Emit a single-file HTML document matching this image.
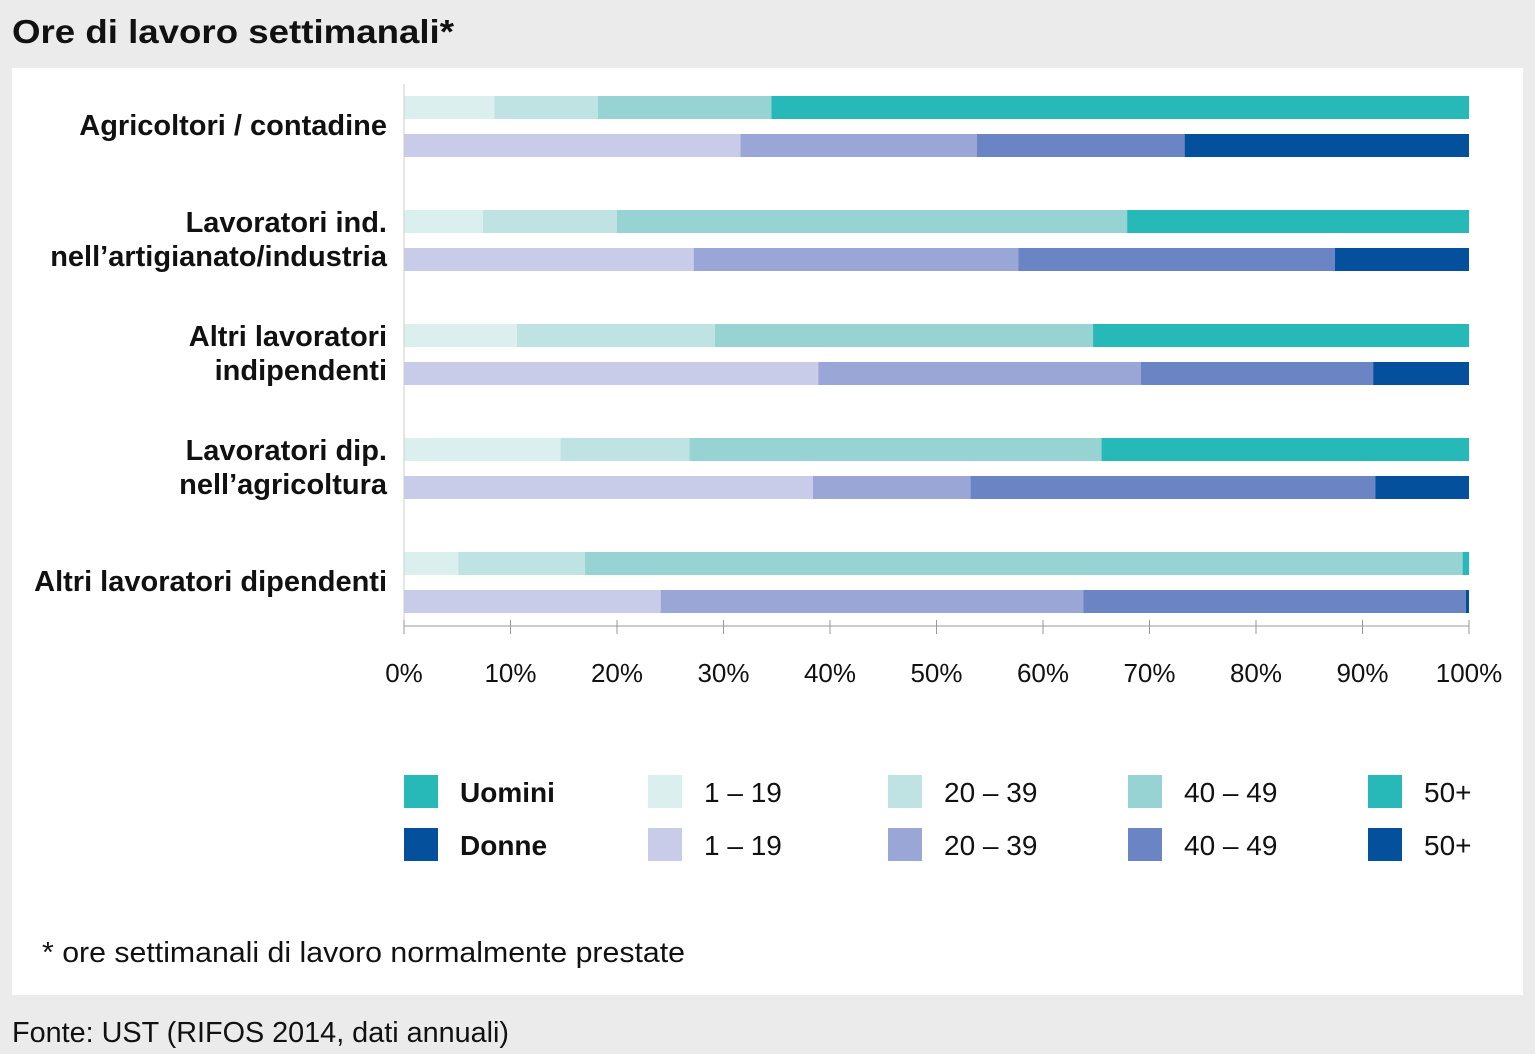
<!DOCTYPE html>
<html><head><meta charset="utf-8"><style>
body{margin:0;width:1535px;height:1054px;background:#ebebeb;font-family:"Liberation Sans Narrow","Liberation Sans",sans-serif;position:relative;overflow:hidden}
#panel{position:absolute;left:12px;top:68px;width:1511px;height:927px;background:#fff}
svg text{font-family:"Liberation Sans Narrow","Liberation Sans",sans-serif;fill:#111}
</style></head><body>
<div id="panel"></div>
<svg id="chart" width="1535" height="1054" style="position:absolute;left:0;top:0">
<text x="12" y="43" font-size="33" font-weight="bold" textLength="442" lengthAdjust="spacingAndGlyphs">Ore di lavoro settimanali*</text>
<text x="12" y="1042" font-size="29" textLength="497" lengthAdjust="spacingAndGlyphs">Fonte: UST (RIFOS 2014, dati annuali)</text>
</svg>
<script>
const categories=[["Agricoltori / contadine"],["Lavoratori ind.","nell’artigianato/industria"],["Altri lavoratori","indipendenti"],["Lavoratori dip.","nell’agricoltura"],["Altri lavoratori dipendenti"]];
const menValues=[[8.5,9.7,16.3,65.5],[7.4,12.6,47.9,32.1],[10.6,18.6,35.5,35.3],[14.7,12.1,38.7,34.5],[5.1,11.9,82.4,0.6]];
const womenValues=[[31.6,22.2,19.5,26.7],[27.2,30.5,29.7,12.6],[38.9,30.3,21.8,9.0],[38.4,14.8,38.0,8.8],[24.1,39.7,35.9,0.3]];
const ticks=[0,10,20,30,40,50,60,70,80,90,100];
const bands=["1 – 19","20 – 39","40 – 49","50+"];
const menColors=["#dcefef","#bfe3e2","#98d3d3","#27b8b8"];
const womenColors=["#c8cce9","#99a6d6","#6b85c4","#05509c"];
const svg=document.getElementById('chart');const NS="http://www.w3.org/2000/svg";
function x(v){return 404+v*10.65;}
function mk(t,a,p){const e=document.createElementNS(NS,t);for(const k in a)e.setAttribute(k,a[k]);(p||svg).appendChild(e);return e;}
categories.forEach((c,i)=>{
 const y0=96+i*114;
 [[menValues[i],menColors,y0,'men'],[womenValues[i],womenColors,y0+38,'women']].forEach(([vals,cols,y,g])=>{
  let cum=0;vals.forEach((v,j)=>{
   const r=mk('rect',{x:x(cum),y:y,width:x(cum+v)-x(cum),height:23,fill:cols[j]});
   
   
   cum+=v;});
 });
 const cy=y0+30;
 c.forEach((l,k)=>{const t=mk('text',{x:387,y:cy+(k-(c.length-1)/2)*34+9,'text-anchor':'end','font-size':29,'font-weight':'bold'});t.textContent=l;
  
  });
});
mk('line',{x1:404,y1:84,x2:404,y2:626,stroke:'#ccc','stroke-width':1});
mk('line',{x1:404,y1:626,x2:1469,y2:626,stroke:'#999','stroke-width':1});
ticks.forEach(t=>{mk('line',{x1:x(t),y1:620,x2:x(t),y2:634,stroke:'#999'});
 const e=mk('text',{x:x(t),y:682,'text-anchor':'middle','font-size':26});e.textContent=t+'%';
 
 });
[[menColors,'Uomini',775],[womenColors,'Donne',828]].forEach(([cols,name,y])=>{
 const s=mk('rect',{x:404,y:y,width:34,height:33,fill:cols[3]});
 
 
 const t=mk('text',{x:460,y:y+27,'font-size':28,'font-weight':'bold'});t.textContent=name;
 
 
 bands.forEach((b,j)=>{const bx=648+j*240;
  const r=mk('rect',{x:bx,y:y,width:34,height:33,fill:cols[j]});
  
  
  const tt=mk('text',{x:bx+56,y:y+27,'font-size':28});tt.textContent=b;
  
  });
});
const fn=mk('text',{x:42,y:962,'font-size':29,textLength:643,lengthAdjust:'spacingAndGlyphs'});fn.textContent='* ore settimanali di lavoro normalmente prestate';


</script>
</body></html>
